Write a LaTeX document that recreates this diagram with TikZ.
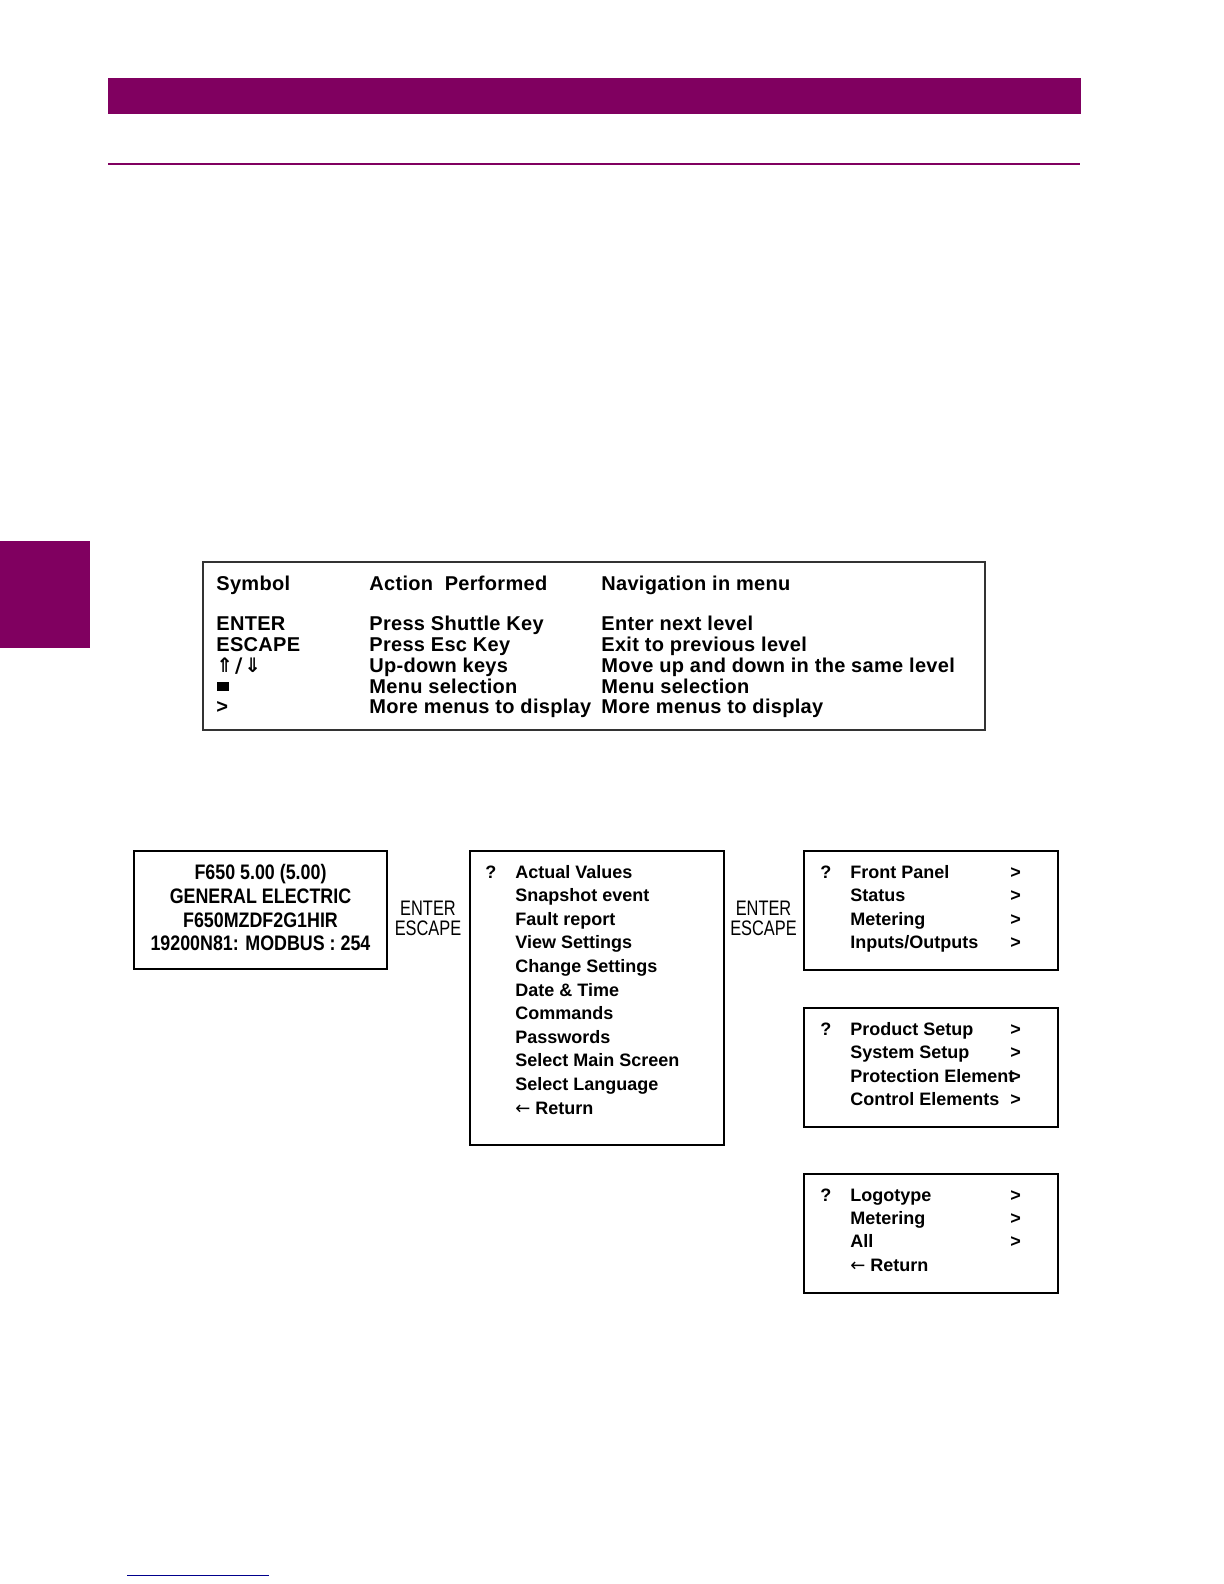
\documentclass[tikz,border=0pt]{standalone}
\usepackage{fontspec}
\setmainfont{Liberation Sans}
\newfontfamily\tabfont[LetterSpace=1.5]{Liberation Sans}
\newfontfamily\lcdfont[FakeStretch=0.85]{Liberation Sans}
\newfontfamily\escfont[FakeStretch=0.78]{Liberation Sans}
\newfontfamily\symfont{DejaVu Sans}
\definecolor{gepurple}{RGB}{128,0,96}
\definecolor{geblue}{RGB}{0,0,140}
\tikzset{
  tabtxt/.style={anchor=base west, inner sep=0pt, font=\tabfont\bfseries\fontsize{10}{12}\selectfont},
  menutxt/.style={anchor=base west, inner sep=0pt, font=\bfseries\fontsize{9}{11}\selectfont},
  lcdtxt/.style={anchor=base, inner sep=0pt, font=\lcdfont\bfseries\fontsize{10.5}{12}\selectfont},
  esctxt/.style={anchor=base, inner sep=0pt, font=\escfont\fontsize{10.5}{12}\selectfont},
  screen/.style={draw=black, line width=1.2pt, inner sep=0pt},
  tableframe/.style={draw=black!80, line width=1pt, inner sep=0pt}
}
\begin{document}
\begin{tikzpicture}[x=0.5pt,y=-0.5pt]
\useasboundingbox (0,0) rectangle (1224,1584);
\fill[white] (0,0) rectangle (1224,1584);
% header decorations
\fill[gepurple] (108,78) rectangle (1081,114);
\fill[gepurple] (108,162.6) rectangle (1080,164.8);
\fill[gepurple] (0,541) rectangle (90,648);
\fill[geblue] (127,1574.5) rectangle (269,1576);
% table
\node[tableframe, minimum width=391pt, minimum height=84pt] (tbl) at (594,646) {};
\node[tabtxt] (h1) at (216,590) {Symbol};
\node[tabtxt] (h2) at (369,590) {Action\ \ Performed};
\node[tabtxt] (h3) at (601,590) {Navigation in menu};
\node[tabtxt] (s1) at (216,630) {ENTER};
\node[tabtxt] (a1) at (369,630) {Press Shuttle Key};
\node[tabtxt] (n1) at (601,630) {Enter next level};
\node[tabtxt] (s2) at (216,651) {ESCAPE};
\node[tabtxt] (a2) at (369,651) {Press Esc Key};
\node[tabtxt] (n2) at (601,651) {Exit to previous level};
\node[tabtxt, font=\symfont\bfseries\fontsize{10}{11}\selectfont] (s3) at (216,672) {⇑\kern1pt/\kern1pt⇓};
\node[tabtxt] (a3) at (369,672) {Up-down keys};
\node[tabtxt] (n3) at (601,672) {Move up and down in the same level};
\fill[black] (217,681.5) rectangle (229,690.5);
\node[tabtxt] (a4) at (369,693) {Menu selection};
\node[tabtxt] (n4) at (601,693) {Menu selection};
\node[tabtxt] (s5) at (216,713) {>};
\node[tabtxt] (a5) at (369,713) {More menus to display};
\node[tabtxt] (n5) at (601,713) {More menus to display};
% screen 1
\node[screen, minimum width=126.5pt, minimum height=59pt] (scr1) at (260.5,910) {};
\node[lcdtxt] (l1) at (260.5,879) {F650 5.00 (5.00)};
\node[lcdtxt] (l2) at (260.5,903.3) {GENERAL ELECTRIC};
\node[lcdtxt] (l3) at (260.5,927.5) {F650MZDF2G1HIR};
\node[lcdtxt] (l4) at (260.5,950.7) {19200N81: MODBUS : 254};
\node[esctxt] (e1) at (428,915.5) {ENTER};
\node[esctxt] (e2) at (428,935.5) {ESCAPE};
% screen 2
\node[screen, minimum width=127pt, minimum height=147pt] (scr2) at (597,998) {};
\node[menutxt] (q2) at (485,878) {?};
\foreach \t [count=\k from 0] in {Actual Values,Snapshot event,Fault report,View Settings,Change Settings,Date \& Time,Commands,Passwords,Select Main Screen,Select Language}
  \node[menutxt] (m2-\k) at (515,878+23.6*\k) {\t};
\node[menutxt] (m2-10) at (515,1114) {{\symfont\mdseries ←} Return};
\node[esctxt] (e3) at (763.5,915.5) {ENTER};
\node[esctxt] (e4) at (763.5,935.5) {ESCAPE};
% screen 3
\node[screen, minimum width=127pt, minimum height=59.5pt] (scr3) at (931,910.5) {};
\node[menutxt] (q3) at (820,878) {?};
\foreach \t [count=\k from 0] in {Front Panel,Status,Metering,Inputs/Outputs}{
  \node[menutxt] (m3-\k) at (850,878+23.6*\k) {\t};
  \node[menutxt] (g3-\k) at (1010,878+23.6*\k) {>};
}
% screen 4
\node[screen, minimum width=127pt, minimum height=59.5pt] (scr4) at (931,1067.5) {};
\node[menutxt] (q4) at (820,1035.5) {?};
\foreach \t [count=\k from 0] in {Product Setup,System Setup,Protection Element,Control Elements}{
  \node[menutxt] (m4-\k) at (850,1035.5+23.3*\k) {\t};
  \node[menutxt] (g4-\k) at (1010,1035.5+23.3*\k) {>};
}
% screen 5
\node[screen, minimum width=127pt, minimum height=59.5pt] (scr5) at (931,1233.5) {};
\node[menutxt] (q5) at (820,1201) {?};
\foreach \t [count=\k from 0] in {Logotype,Metering,All}{
  \node[menutxt] (m5-\k) at (850,1201+23.3*\k) {\t};
  \node[menutxt] (g5-\k) at (1010,1201+23.3*\k) {>};
}
\node[menutxt] (m5-3) at (850,1271) {{\symfont\mdseries ←} Return};
\end{tikzpicture}
\end{document}
